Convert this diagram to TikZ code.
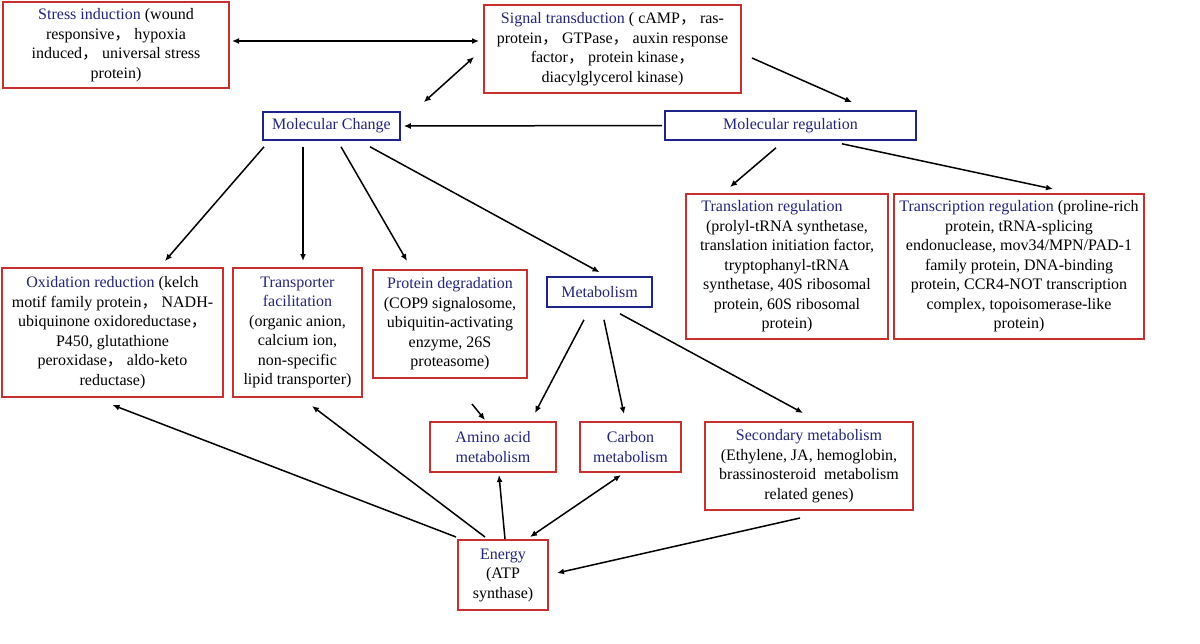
\documentclass[tikz,border=0pt]{standalone}
\usepackage{fontspec}
\setmainfont{Liberation Serif}
\newfontfamily\cjk{Noto Sans CJK SC}
\usepackage{tikz}
\usetikzlibrary{calc}
\usetikzlibrary{arrows.meta}

\definecolor{boxred}{RGB}{200,48,47}
\definecolor{boxblue}{RGB}{30,36,140}
\definecolor{headblue}{RGB}{36,36,120}
\newcommand{\zhc}{{\cjk ，}}
\newcommand{\hd}[1]{\textcolor{headblue}{#1}}

\begin{document}
\begin{tikzpicture}[x=1pt,y=-1pt,
            red-box/.style={rectangle,draw=boxred,line width=2pt,align=center,inner sep=2pt,
                font=\fontsize{16}{19.5}\selectfont},
            blue-box/.style={rectangle,draw=boxblue,line width=1.6pt,align=center,inner sep=0pt,
                text=headblue,font=\fontsize{16}{19.5}\selectfont},
            arr/.style={line width=1.5pt,-{Latex[length=7pt,width=6pt]}},
            darr/.style={line width=1.5pt,{Latex[length=7pt,width=6pt]}-{Latex[length=7pt,width=6pt]}},
        ]
            \useasboundingbox (0,0) rectangle (1200,643);

            % top row
            \node[red-box,minimum width=226pt,minimum height=86pt] (stress) at (116,45)
                {\hd{Stress induction} (wound\\ responsive\zhc\ hypoxia\\ induced\zhc\ universal stress\\ protein)};
            \node[red-box,minimum width=257pt,minimum height=88pt] (signal) at (612.5,49)
                {\hd{Signal transduction} ( cAMP\zhc\ ras-\\ protein\zhc\ GTPase\zhc\ auxin response\\ factor\zhc\ protein kinase\zhc\\ diacylglycerol kinase)};

            \node[blue-box,minimum width=137pt,minimum height=28pt] (mc) at (331.5,126) {Molecular Change};
            \node[blue-box,minimum width=251pt,minimum height=29pt] (mr) at (790.5,125.5) {Molecular regulation};

            % regulation boxes
            \node[red-box,minimum width=202pt,minimum height=145pt] (transl) at (787,266.5)
                {\hd{Translation regulation}\hspace*{30pt}\\ (prolyl-tRNA synthetase,\\ translation initiation factor,\\ tryptophanyl-tRNA\\ synthetase, 40S ribosomal\\ protein, 60S ribosomal\\ protein)};
            \node[red-box,minimum width=250pt,minimum height=145pt] (transc) at (1019,266.5)
                {\hd{Transcription regulation} (proline-rich\\ protein, tRNA-splicing\\ endonuclease, mov34/MPN/PAD-1\\ family protein, DNA-binding\\ protein, CCR4-NOT transcription\\ complex, topoisomerase-like\\ protein)};

            % molecular change boxes
            \node[red-box,minimum width=221pt,minimum height=129pt] (oxid) at (112.5,332.5)
                {\hd{Oxidation reduction} (kelch\\ motif family protein\zhc\ NADH-\\ ubiquinone oxidoreductase\zhc\\ P450, glutathione\\ peroxidase\zhc\ aldo-keto\\ reductase)};
            \node[red-box,minimum width=129pt,minimum height=129pt] (transp) at (297.5,332.5)
                {\hd{Transporter}\\ \hd{facilitation}\\ (organic anion,\\ calcium ion,\\ non-specific\\ lipid transporter)};
            \node[red-box,minimum width=154pt,minimum height=108pt] (protdeg) at (450,324)
                {\hd{Protein degradation}\\ (COP9 signalosome,\\ ubiquitin-activating\\ enzyme, 26S\\ proteasome)};
            \node[blue-box,minimum width=105pt,minimum height=30pt] (metab) at (599.5,292) {Metabolism};

            % metabolism boxes
            \node[red-box,minimum width=126pt,minimum height=50pt] (amino) at (493,447)
                {\hd{Amino acid}\\ \hd{metabolism}};
            \node[red-box,minimum width=101pt,minimum height=50pt] (carbon) at (630.5,447)
                {\hd{Carbon}\\ \hd{metabolism}};
            \node[red-box,minimum width=208pt,minimum height=88pt] (second) at (809,466)
                {\hd{Secondary metabolism}\\ (Ethylene, JA, hemoglobin,\\ brassinosteroid~ metabolism\\ related genes)};
            \node[red-box,minimum width=90pt,minimum height=70pt] (energy) at (503,575)
                {\hd{Energy}\\ (ATP\\ synthase)};

            \coordinate (free) at (472,404);

            % connectors
            \draw[darr] ($(stress.east)+(2,-4)$) -- ($(signal.west)+(-4,-8)$);
            \draw[darr] ($(signal.west)+(-9,8)$) -- ($(mc.north east)+(23,-9)$);
            \draw[arr] ($(signal.east)+(10,9)$) -- ($(mr.north)+(61.5,-8)$);
            \draw[arr] ($(mr.west)+(-2,0)$) -- ($(mc.east)+(3,0)$);
            \draw[arr] ($(mr.south)+(-14.5,7)$) -- ($(transl.north)+(-57,-6)$);
            \draw[arr] ($(mr.south)+(51.5,3)$) -- ($(transc.north)+(34,-4)$);

            \draw[arr] ($(mc.south)+(-67.5,6)$) -- ($(oxid.north)+(52.5,-6)$);
            \draw[arr] ($(mc.south)+(-28.5,6)$) -- ($(transp.north)+(5.5,-6)$);
            \draw[arr] ($(mc.south)+(9.5,6)$) -- ($(protdeg.north)+(-43,-8)$);
            \draw[arr] ($(mc.south)+(38.5,6)$) -- ($(metab.north)+(0,-4)$);

            \draw[arr] ($(metab.south)+(-15.5,12)$) -- ($(amino.north)+(42,-8)$);
            \draw[arr] ($(metab.south)+(4.5,12)$) -- ($(carbon.north)+(-6.5,-7)$);
            \draw[arr] ($(metab.south)+(20.5,6)$) -- ($(second.north)+(-6,-8)$);
            \draw[arr] (free) -- ($(amino.north west)+(56,-1)$);

            \draw[arr] ($(energy.north)+(2,0)$) -- ($(amino.south)+(6,2)$);
            \draw[darr] ($(energy.north)+(27,-2)$) -- ($(carbon.south)+(-9.5,2)$);
            \draw[arr] ($(energy.north west)+(-1,-2)$) -- ($(oxid.south)+(0,7)$);
            \draw[arr] ($(energy.north)+(-18,-2)$) -- ($(transp.south)+(14.5,8)$);
            \draw[arr] ($(second.south)+(-9,7)$) -- ($(energy.east)+(8,-2)$);
        \end{tikzpicture}
\end{document}
